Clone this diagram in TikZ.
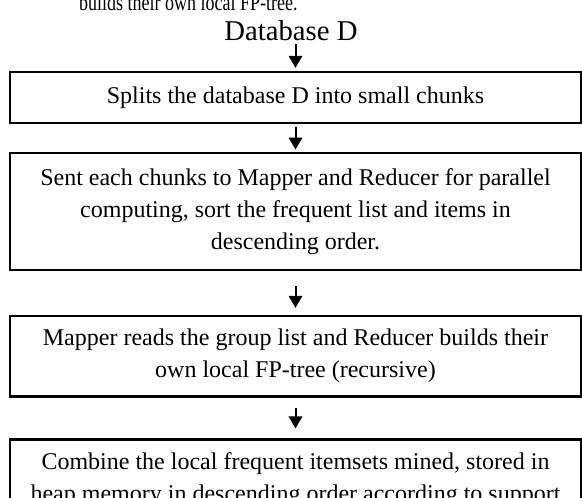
\documentclass[tikz,border=0pt]{standalone}
\usepackage{fontspec}
\setmainfont{Liberation Serif}
\usetikzlibrary{arrows.meta}
\begin{document}
\begin{tikzpicture}[x=1pt,y=1pt,
  flowbox/.style={draw=black, line width=2.2pt, minimum width=571pt, align=center, inner sep=0pt,
    font=\fontsize{24}{32}\selectfont},
  flowarrow/.style={line width=2pt, -{Triangle[length=12pt,width=13.5pt]}},
  capt/.style={inner sep=0pt, font=\fontsize{18}{22}\selectfont},
  title/.style={inner sep=0pt, font=\fontsize{28.7}{34}\selectfont}]
\useasboundingbox (0,0) rectangle (582,-498);
\clip (0,0) rectangle (582,-498);
\node[capt, anchor=base west, yscale=1.3] (cut) at (79,-10.5) {builds their own local FP-tree.};
\node[title, anchor=base] (db) at (291,-40) {Database D};
\node[flowbox, minimum height=51.3pt] (b1) at (295.5,-97.3) {Splits the database D into small chunks};
\node[flowbox, minimum height=117.3pt] (b2) at (295.5,-211.3) {Sent each chunks to Mapper and Reducer for parallel\\computing, sort the frequent list and items in\\descending order.};
\node[flowbox, minimum height=80.5pt] (b3) at (295.5,-356.2) {Mapper reads the group list and Reducer builds their\\own local FP-tree (recursive)};
\node[flowbox, minimum height=80pt] (b4) at (295.5,-479.5) {Combine the local frequent itemsets mined, stored in\\heap memory in descending order according to support};
\draw[flowarrow, shorten <=4pt, shorten >=2.7pt] (db.south -| 295.5,0) -- (b1.north);
\draw[flowarrow, shorten <=3pt, shorten >=2pt] (b1.south) -- (b2.north);
\draw[flowarrow, shorten <=15pt, shorten >=7pt] (b2.south) -- (b3.north);
\draw[flowarrow, shorten <=10pt, shorten >=10pt] (b3.south) -- (b4.north);
\end{tikzpicture}
\end{document}
